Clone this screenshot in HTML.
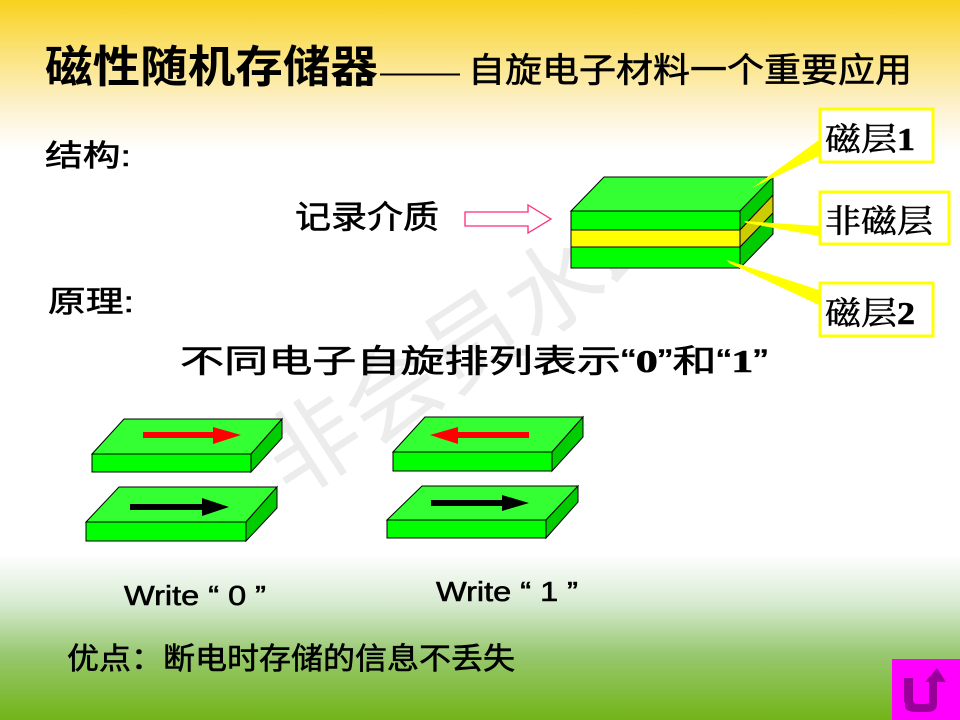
<!DOCTYPE html>
<html><head><meta charset="utf-8"><style>
html,body{margin:0;padding:0;width:960px;height:720px;overflow:hidden;background:#fff}
svg{display:block}
text{font-family:"Liberation Sans","Noto Sans CJK SC",sans-serif;fill:#000}
.t{stroke:#000;stroke-width:0.6}
.s{font-family:"Liberation Serif","Noto Serif CJK SC","Noto Sans CJK SC",serif}
</style></head><body>
<svg width="960" height="720" viewBox="0 0 960 720" xmlns="http://www.w3.org/2000/svg">
<defs>
<linearGradient id="top" x1="0" y1="0" x2="0" y2="1">
<stop offset="0" stop-color="#f8d21c"/><stop offset="0.35" stop-color="#fbe27a"/><stop offset="0.75" stop-color="#fdf3d6"/><stop offset="1" stop-color="#ffffff"/>
</linearGradient>
<linearGradient id="bot" x1="0" y1="0" x2="0" y2="1">
<stop offset="0" stop-color="#ffffff"/><stop offset="0.3" stop-color="#d6ead0"/><stop offset="0.6" stop-color="#98c870"/><stop offset="1" stop-color="#72b418"/>
</linearGradient>
</defs>
<rect x="0" y="0" width="960" height="150" fill="url(#top)"/>
<rect x="0" y="555" width="960" height="165" fill="url(#bot)"/>

<text x="0" y="0" font-size="96" opacity="0.07" transform="translate(290,500) rotate(-33)">非会员水印</text>

<text x="45" y="82" font-size="44" font-weight="bold" textLength="333" lengthAdjust="spacingAndGlyphs">磁性随机存储器</text>
<text x="380" y="82" font-size="30" textLength="80" lengthAdjust="spacingAndGlyphs">——</text>
<text class="t" x="468" y="82" font-size="34" textLength="444" lengthAdjust="spacingAndGlyphs">自旋电子材料一个重要应用</text>

<text class="t" x="45" y="166" font-size="30" textLength="86" lengthAdjust="spacingAndGlyphs">结构:</text>
<text class="t" x="295" y="228" font-size="32" textLength="144" lengthAdjust="spacingAndGlyphs">记录介质</text>
<polygon points="465,212 528,212 528,205 551,219 528,233 528,226 465,226" fill="#fff" stroke="#ff2a7a" stroke-width="1.3"/>
<text class="t" x="48" y="312" font-size="30" textLength="86" lengthAdjust="spacingAndGlyphs">原理:</text>
<text class="t" x="180" y="372" font-size="32" textLength="588" lengthAdjust="spacingAndGlyphs">不同电子自旋排列表示“<tspan class="s" font-weight="bold">0</tspan>”和“<tspan class="s" font-weight="bold">1</tspan>”</text>

<g stroke="#000" stroke-width="1">
<polygon points="571,211 604,177 773,177 740,211" fill="#33ff33"/>
<rect x="571" y="211" width="169" height="19" fill="#00ff00"/>
<rect x="571" y="230" width="169" height="17" fill="#ffff00"/>
<rect x="571" y="247" width="169" height="21" fill="#00ff00"/>
<polygon points="740,211 773,177 773,195 740,230" fill="#00cc00"/>
<polygon points="740,230 773,195 773,213 740,247" fill="#cccc00"/>
<polygon points="740,247 773,213 773,234 740,268" fill="#00cc00"/>
</g>
<g fill="#ffff00">
<polygon points="752,188 819,140 819,156 756,186"/>
<polygon points="744,221 819,226 819,236 746,223"/>
<polygon points="727,260 819,290 819,305 729,263"/>
</g>
<g fill="#fff" stroke="#ffff00" stroke-width="3">
<rect x="820" y="109" width="113" height="53"/>
<rect x="820" y="192" width="129" height="52"/>
<rect x="820" y="283" width="113" height="53"/>
</g>
<text class="s t" x="825" y="150" font-size="32" textLength="90" lengthAdjust="spacingAndGlyphs">磁层<tspan font-weight="bold">1</tspan></text>
<text class="s t" x="825" y="232" font-size="32" textLength="108" lengthAdjust="spacingAndGlyphs">非磁层</text>
<text class="s t" x="825" y="324" font-size="32" textLength="90" lengthAdjust="spacingAndGlyphs">磁层<tspan font-weight="bold">2</tspan></text>

<g stroke="#000" stroke-width="1">
<polygon points="92,454 124,419 282,419 251,454" fill="#33ff33"/>
<rect x="92" y="454" width="159" height="18" fill="#00ff00"/>
<polygon points="251,454 282,419 282,438 251,472" fill="#00cc00"/>
<polygon points="86,522 119,487 277,487 246,522" fill="#33ff33"/>
<rect x="86" y="522" width="160" height="19" fill="#00ff00"/>
<polygon points="246,522 277,487 277,508 246,541" fill="#00cc00"/>
<polygon points="393,452 425,417 583,417 552,452" fill="#33ff33"/>
<rect x="393" y="452" width="159" height="19" fill="#00ff00"/>
<polygon points="552,452 583,417 583,437 552,471" fill="#00cc00"/>
<polygon points="387,520 422,486 578,486 546,520" fill="#33ff33"/>
<rect x="387" y="520" width="159" height="18" fill="#00ff00"/>
<polygon points="546,520 578,486 578,502 546,538" fill="#00cc00"/>
</g>
<rect x="143" y="432" width="78" height="6" fill="#ff0000"/>
<polygon points="213,427 241,435 213,444" fill="#ff0000"/>
<rect x="130" y="504" width="80" height="6" fill="#000"/>
<polygon points="202,498 229,507 202,516" fill="#000"/>
<rect x="452" y="432" width="77" height="6" fill="#ff0000"/>
<polygon points="458,427 430,435 458,444" fill="#ff0000"/>
<rect x="431" y="500" width="78" height="6" fill="#000"/>
<polygon points="502,495 529,503 502,511" fill="#000"/>

<text class="t" x="124" y="605" font-size="28" textLength="142" lengthAdjust="spacingAndGlyphs">Write “ 0 ”</text>
<text class="t" x="436" y="601" font-size="28" textLength="142" lengthAdjust="spacingAndGlyphs">Write “ 1 ”</text>
<text class="t" x="67" y="669" font-size="30" textLength="448" lengthAdjust="spacingAndGlyphs">优点：断电时存储的信息不丢失</text>

<rect x="892" y="659" width="68" height="61" fill="#ff00ff"/>
<path d="M905,698 L905,706 Q905,712 917,712 L927,712 Q937,712 937,704 L937,682 L946,682 L937,668 L925,682 L929,682 L929,702 Q929,704 925,704 L918,704 Q913,704 913,700 L913,698 Z" fill="#990099"/>
<path d="M904,678 L904,702 L913,702 L913,678 Z" fill="#990099"/>
</svg>
</body></html>
